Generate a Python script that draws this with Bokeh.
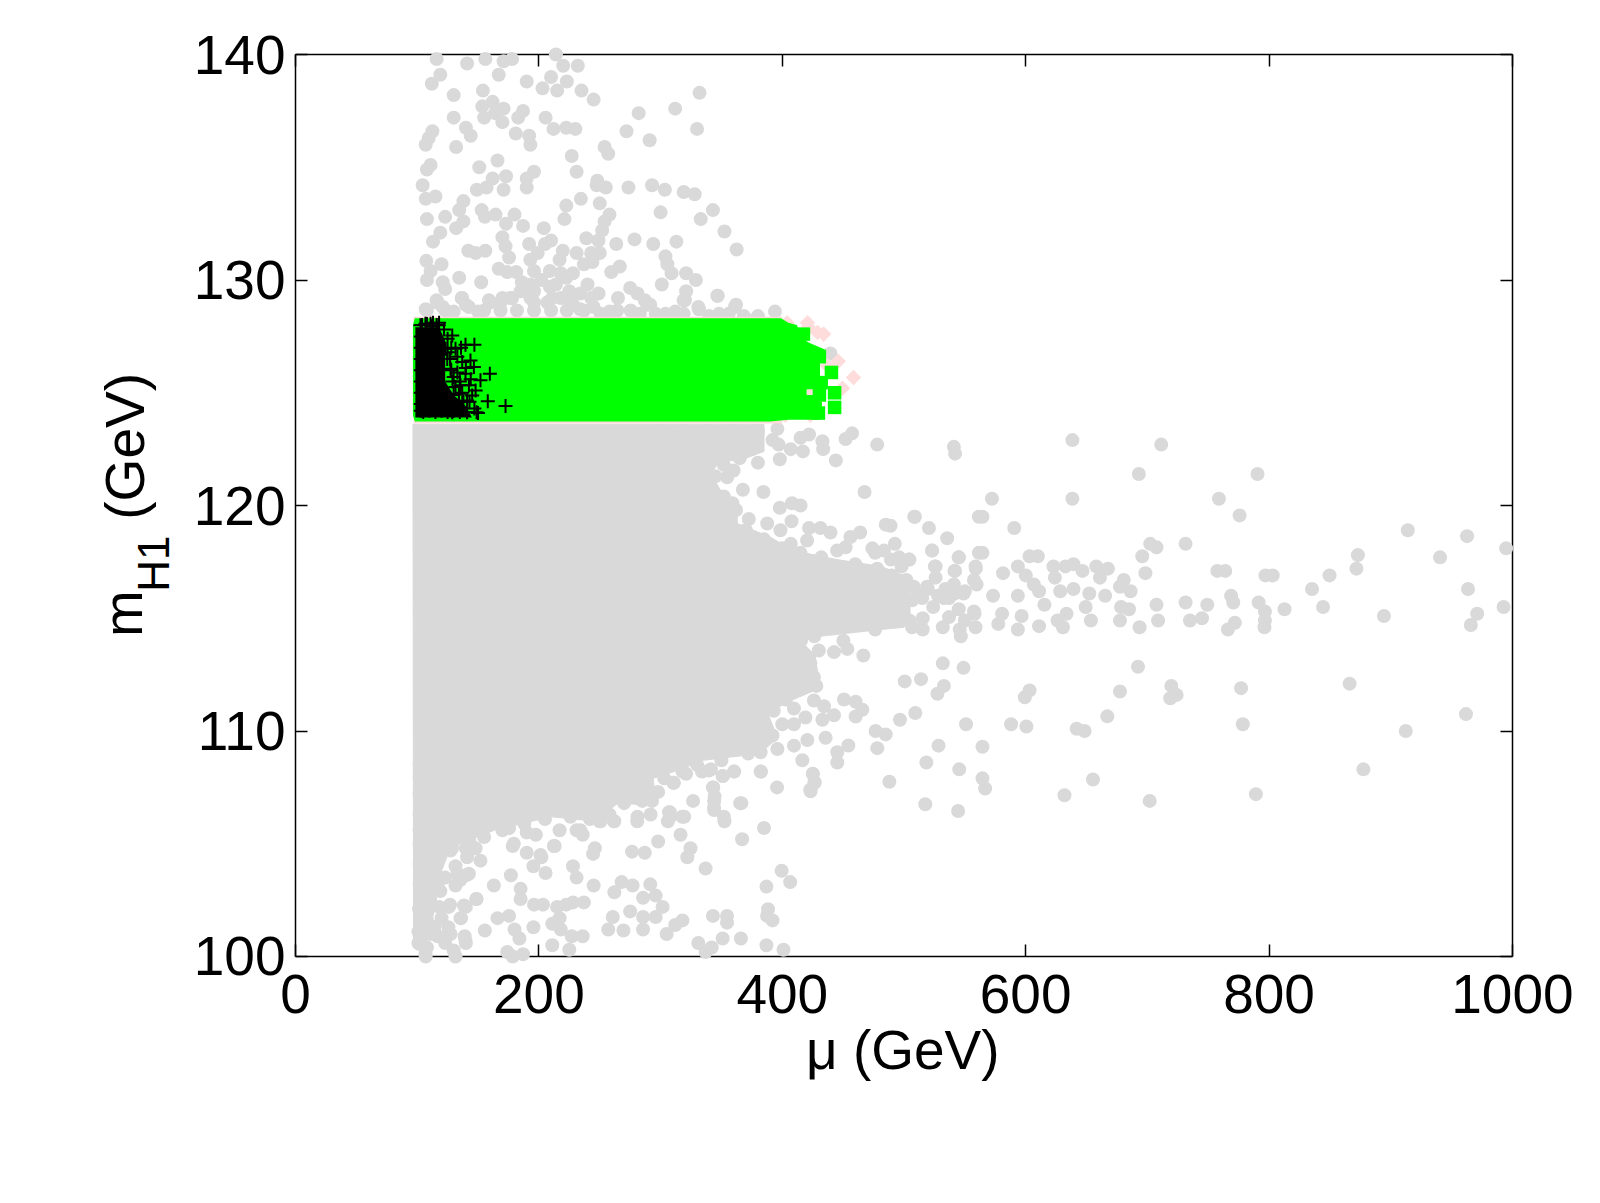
from math import pi
from bokeh.plotting import figure
from bokeh.models import LinearAxis, FixedTicker, Label
from bokeh.embed import file_html
from bokeh.resources import INLINE

x_ticks = [0, 200, 400, 600, 800, 1000]
y_ticks = [100, 110, 120, 130, 140]
x_title = "μ (GeV)"
y_title_m = "m"
y_title_sub = "H1"
y_title_unit = "(GeV)"

grey_top = [(116,139.8),(141,139.6),(156,139.8),(171,139.7),(178,139.8),(214,140.0),(220,139.5),(232,139.5),
(119,139.1),(112,138.7),(167,139.1),(190,138.8),(210,139.0),(223,138.8),(203,138.5),(215,138.4),(235,138.4),(245,138.0),
(332,138.3),(130,138.2),(154,138.4),(312,137.6),(282,137.4),(330,136.7),(272,136.6),(291,136.2),(153.5,137.7),(162,137.9),
(171,137.6),(155,137.2),(164,137.4),(170,137.0),(187,137.5),(183,137.2),(130,137.2),(205.5,137.2),(140,136.75),(144,136.4),
(112.5,136.6),(109.5,136.3),(107,136.0),(212,136.7),(222.5,136.75),(230,136.7),(181,136.5),(192,136.4),(193,136.0),(132,135.9),
(254,135.9),(257,135.6),(227,135.5),(111,135.1),(108,134.9),(166,135.3),(151,135.0),(231,134.8),(196,134.8),(190,134.5),
(190,134.1),(173,134.6),(162,134.5),(157,134.1),(149,134.0),(171,134.0),(248,134.4),(255,134.1),(247.5,134.2),(273.6,134.1),
(293,134.2),(303.5,134.0),(319,133.9),(328,133.8),(104.5,134.2),(107,133.6),(115,133.7),(234.5,133.6),(250,133.4),(222.5,133.3),
(221,132.7),(138,133.5),(134.5,133.1),(153,133.1),(155.6,132.8),(164.4,132.9),(180,132.9),(173,132.5),(187,132.4),(204,132.3),
(258,132.9),(254,132.6),(252,132.2),(300,133.0),(343,133.1),(333,132.7),(352.5,132.15),(362.5,131.35),(108,132.7),(123,132.8),
(138,132.6),(132,132.3),(119,132.1),(113,131.7),(170,131.9),(172.6,131.5),(175.5,131.0),(192,131.6),(210,131.75),(205,131.6),
(239,131.85),(249,131.75),(263.6,131.6),(278.6,131.8),(294,131.6),(313,131.7),(142,131.3),(148,131.2),(156,131.3),(107.5,130.85),
(120,130.7),(111,130.4),(108,130.0),(134.5,130.1),(121,129.9),(123,129.6),(152.6,129.9),(199,131.2),(219.6,131.3),(231,131.2),
(243,131.2),(250,131.2),(193,130.9),(217,130.9),(237,130.7),(244,130.8),(266.5,130.6),(259.5,130.35),(304,131.05),(305.6,130.7),
(309,130.3),(321,130.3),(329,130.0),(301,129.8),(167,130.5),(174,130.35),(181.4,130.35),(196,130.4),(209,130.4),(222.5,130.1),
(228,130.3),(240,129.8),(193,129.8),(209,129.7),(187,129.6),(225,129.5),(249,129.4),(275,129.65),(281,129.4),(287,129.1),
(291.5,128.9),(265,129.2),(321,129.5),(320,129.1),(331,128.8),(347,129.3),(361,128.8),(116,129.1),(107,128.7),(121,128.8),
(136.5,129.2),(140,128.9),(159,129.1),(170,129.2),(178,129.2),(193,129.2),(211,129.2),(228,128.9),(108,128.65),(116.4,129),
(123.3,128.65),(137,129.2),(142.5,128.8),(160,129),(168.5,129),(176.7,129.2),(185,129.5),(196,129.5),(226,129),(234,128.7),
(250.7,128.5),(264.4,128.65),(275.4,128.65),(289,128.9),(304,128.5),(319,129.1),(319,128.5),(331.5,128.7),(340,128.4),(356,128.5),
(362,128.9),(368.5,128.4),(380,128.4),(394,128.6),(346.6,129.3),(196,129),(207,129),(218,129.2),(168.5,128.65),(155,128.65),
(182,128.65),(196,128.65),(210,128.65),(223,128.65),(237,128.65),(439.6,126.74),
(150,128.6),(130,128.6),(245,128.8),(258,128.6),(283,128.5),(296,128.5),(312,128.6),(348,128.5),(186,129.9),(202,130),(214,129.8),(218,130.3),(234,129.4),(243,129.2)]

grey_bottom = [(107,100),(131.5,100),(174,100.2),(178.5,100),(187,100.1),(211,100.5),(225,100.3),(236,100.9),(227,100.9),(218,101.2),
(211,101.45),(217,101.7),(215,102.2),(222.5,102.3),(228,102.4),(237,102.4),(196,102.3),(203.4,102.3),(195.5,101.3),(184,100.8),
(180,101.2),(175.5,101.8),(166,101.7),(155.6,101.15),(140,100.6),(139,100.9),(140,102.2),(148.5,102.55),(127,102.3),(136,101.7),
(120,101.7),(125.6,101.3),(117,100.9),(123,100.6),(108,100.4),(101,100.6),(101,101.1),(111,101),(101.6,102.1),(108,101.6),(114,101.3),
(185,103),(185,102.55),(163,103.15),(177,103.6),(195.5,104),(205.5,103.7),(228,104),(231,103.5),(245,103.15),(246,104.8),(244.5,104.55),
(276.5,104.65),(287,104.6),(298,105.1),(316.4,105.4),(324.6,104.8),(322,104.4),(337,103.9),(268,103.3),(277,103.15),(262,102.85),
(291.5,103.2),(296,102.7),(285.6,102.6),(301.7,102.2),(296,101.75),(285.6,101.75),(285.6,101.2),(275,102),(260.7,101.75),(257,101.2),
(269.5,101.15),(318,101.6),(312,101.4),(305,101),(331,100.6),(337,100.2),(342,100.4),(351,100.8),(366,100.8),(387,100.5),(401,100.3),
(343,101.8),(354.6,101.8),(354.6,101.5),(388.3,102.1),(387.5,101.8),(392,101.6),(387,103.1),(399.5,103.8),(406.5,103.3),
(310.5,107.7),(321,108.1),(334,108.2),(341.4,108.3),(351,108),(360.5,108.2),(382.5,108.2),(395.7,107.5),(425,108.1),(426.5,107.7),(423,107.4),
(343,107.5),(344,106.9),(344,106.5),(352.5,106),(366.3,106.8),(326.7,106.9),(307.6,106.4),(306,106),(319.4,106.2),(367,105.2),(385,105.7),
(281,106.2),(262,106),(250,106),(293,106.9),(231,105.6),(217,105.6),(190,105.5),(175.5,105.7),(197.5,105.4),(178.5,104.9),(190,104.6),
(202,104.4),(213,104.9),(236,105.4),(107,104.7),(114,104.8),(128.6,104.8),(140,104.8),(152,104.25),(131.5,104),(140,103.6),(123,103.5),
(105,104),(102,103.2),(111,103.1),(131.5,103.15),(108,102.5),(118,102.2),
(102,108.55),(102,107.95),(102,107.2),(102,106.3),(102,105.6),(102,105),(102,104.1),(102,102.2),(102,101.15),(102,100.55),
(148,104.8),(142.5,103.67),(135.6,103.4),(126,102.2),(138.4,102.26),(148.8,102.55),(135.6,101.7),(139.7,100.7),(130,100.27),(106.8,100.1),
(127.4,101),(113.7,101.3),(105.5,102.5),(119,102.9),(133,103.67),(119,103.4),(105.5,103.67),(108.2,104.55),(127.4,104.7),(141,104.4),
(175,105.7),(179.4,105),(201.4,104.5),(212.3,104.9),(234,105.6),(250.7,106),(261.7,106),(280.8,106),(291.8,106.3),(308,106.2)]

grey_edge = [(396,123.4),(415,123),(422,123.15),(433,122.85),(433.6,122.5),(417,122.4),(407,122.5),(397,122.7),(398,122.05),(380,121.9),
(444,122),(452,122.95),(457.4,123.2),(478,122.7),(360,121.55),(354.7,121.25),(367.6,120.7),(384.5,120.6),(467.6,120.6),(359,120.1),
(398,119.9),(408,120.1),(415,120),(407.6,119.3),(372.5,119.4),(387.6,119.2),(398.5,118.9),(422,119),(431.4,119),(439.6,118.8),(456,118.6),
(464,118.8),(485,119.15),(489,119.1),(509,119.5),(520.5,119),(535.5,118.55),(561.5,119.5),(407,118.3),(420.4,118.45),(445,118),(452,118.15),
(474,118.1),(483.5,118),(492.5,118.3),(504,117.6),(496,117.7),(523,118),(545,117.7),(561.5,117.9),(526,117.3),(526,116.8),(542,117.1),
(541,116.5),(559,117.2),(557.5,116.7),(537,115.9),(549,116.1),(557.5,115.3),(508,116.4),(513.6,116),(466.6,113.35),(442.5,113.5),(430,113.57),
(453.4,113.64),(450.7,111.4),(460.3,111.3),(465.8,110.94),(460.3,110.64),(476.7,110),(485,109.85),(435.6,109.7),(454.3,109.36),(445.2,109.06),
(445.2,108.6),(478.1,109.24),(416.5,108.7),(425.2,108.1),(426.6,107.73),(423.3,107.33),(382.2,108.2),(360.3,108.2),(351.2,108),(339.7,108.25),
(343.3,107.5),(344.4,107.1),(343.9,106.6),(311,107.7),(306.9,106.4),(317.8,106.2),(352,106.2),(409.6,110.3),(419,110.6),(433,110.5),(442.5,110.7),
(420.6,109.6),(409.6,109.35),(396,109.2),(382.2,109.06),(361.6,109.2),(426,111.35),(434.3,111.1),(401.4,111.94),(409.6,111),(426,112.4),(423,113),
(415.4,114),(426.3,114.2),(450.2,114),(476.3,114.5),(472,114.9),(506.7,114.6),(515.4,114.5),(531.9,114.6),(545.8,114.5),(546.7,114.2),(558.8,114.6),
(558,115.2),(523.2,118),(525.4,117.3),(541.5,117.1),(545,117.7),(564.5,117.9),(558.8,117.3),(559.7,116.5),
(300,123.3),(320,123.3),(340,123.3),(360,123.3),(380,123.3),(392,122.9),(375,122.5),(365,122.1),(352,121.8),(345,121.3),(352,120.4),(362,119.8),(370,118.9),(385,118.5),(400,118.1),(415,117.9),(432,117.7),(460,117.4),(478,117.2),(490,116.9),(502,116.7),(519,116.4),(534,116.3),
(420,113),(410,112.6),(428,112),(403,111.4),(393,110.9),(400,110.3),(392,109.8),(372,109),(350,108.7),(330,108.5),(318,108.2),(303,107.9),(298,107.3),(285,106.9),(270,106.8),(258,106.3),(242,106.1),(226,106.2),(205,106.1),(188,105.9),(170,105.6),(155,105.3),(143,105.1),
(519.7,116.3),(532.8,115.9),(541.5,116.1),(550,116.2),(506.7,116.4),(506.7,115.8),(524,115.5),(537,115.05),(550,114.9),(515.4,115),(504.5,114.9),(489.3,114.9),(498,116.1),(498,117.3),(504.5,117.6),(489.3,117.6),(476.3,117.9),(515,115.9),(528,116),(545,115.4)]

grey_right = [(638.4,122.9),(711.4,122.7),(541,122.6),(542,122.3),(693,121.4),(790.5,121.4),(572.3,120.3),(638.4,120.3),(758.8,120.3),(775.8,119.56),
(564.5,119.5),(508.4,119.5),(590.6,119),(914,118.9),(962.7,118.64),(994.8,118.1),(873,117.8),(871.8,117.2),(940.5,117.7),(731.4,118.3),(702.3,118.3),
(707.5,118.15),(695.8,117.75),(698.4,117),(849.7,116.9),(835.3,116.3),(963.5,116.3),(844.4,115.5),(894.4,115.1),(992.7,115.5),(971,115.2),(965.8,114.7),
(812.7,115.4),(796.6,115.3),(791.4,115.7),(796.2,114.6),(796.6,114.9),(768.8,116),(770.6,115.7),(771.9,114.8),(766.2,114.5),(749.2,115.6),(744.9,115),
(735,114.9),(731.4,115.7),(708.8,114.9),(707.5,115.6),(693.6,114.6),(677.5,114.9),(678.4,115.5),(684.9,115.4),(686.2,116.2),(677.5,116.4),(680.6,116.7),
(757.5,117.1),(764,117.1),(797,116.9),(803,116.9),(653.6,114.9),(630.6,114.6),(626.2,114.9),(633.6,115.2),(611,114.65),(593.6,114.5),(577.5,114.75),
(580.6,115.2),(596.7,115.1),(615.4,115.6),(649.3,115.5),(652.3,116.1),(665.3,116),(639.3,116.3),(628.4,116.2),(661,116.8),(646.7,117.1),(658,117.3),
(667.6,117.2),(639.3,117.4),(632.7,117.3),(622.8,117.3),(624,116.8),(610,117.75),(603.2,117.75),(593.6,117.3),(581.4,117),(600.1,116.9),(606.7,116.5),
(593.6,116),(611,116.2),(573.2,116),(531.9,113),(548.9,112.8),(692.3,112.85),(500.6,112.2),(514,112.3),(532.8,112),(527.5,111.65),(603.2,111.8),(599.3,111.5),
(677.5,111.75),(719.7,112),(718.8,111.45),(724,111.6),(777,111.9),(866.2,112.1),(509.3,110.8),(496.7,110.5),(551,110.3),(588,110.3),(600.6,110.2),
(641.9,110.1),(648.4,110),(667.1,110.65),(778.4,110.3),(912.3,110),(961.8,110.75),(528.4,109.35),(564.5,109.3),(518.4,108.6),(545.4,108.3),(488,107.75),
(564.5,107.9),(566.7,107.45),(655.3,107.85),(631.9,107.15),(701.9,106.9),(789.2,107.2),(877.5,108.3),(517.5,106.75),(544.5,106.45),(365.4,106.8)]

# outline of the solid part of the grey cloud (mu, mH1)
core_mu = [96.5,385,385,365,349,341,363,363,390,409,445,481,500,505,505,500,481,431,415,427,431,407,388,396,382,335,314,294,296,265,246,210,163.5,135,125,118,115,110,108,97]
core_mh = [123.6,123.6,122.4,122,122,121.4,119.5,119.2,118.6,118,117.6,117.3,116.9,116,115.2,114.6,114.5,114.2,114,113.35,111.9,111.35,110.8,109.7,109,108.7,108.25,107.9,106.7,106.8,106,106.2,105.6,105,104.5,103.5,102.2,101.2,100.6,100.6]

pink_band_mu = [97,400,400,97]
pink_band_mh = [128.37,128.37,123.64,123.64]
pink_mu = [458.5,449.5,446,434,421.5,429,423,404,420.7,402.6,423,421.5,426,428,437]
pink_mh = [125.68,125.2,126.4,127.6,127.9,127.67,124.8,128.1,128.1,124,124,125.3,125.1,124.9,126.2]

green_band_mu = [98,399,405,412,416,423,436,436,431,431,420,420,431,431,405,390,98,96.5,96.5]
green_band_mh = [128.3,128.3,128.1,128,127.4,127.2,126.9,126.3,126.3,125.15,125.15,124.7,124.7,123.8,123.8,123.72,123.72,124,128]
green_mu = [443,443,430.5,429.7,440.4,425.6,417.4,396,432,427,420]
green_mh = [124.35,125,124.9,124.1,125.9,126.56,127.6,127.9,125.45,124.3,124.6]

black_core_mu = [98.5,118,123,123,130,140,145,98.5]
black_core_mh = [127.9,127.9,127.3,125.5,124.9,124.4,123.9,123.9]
black_mu = [172.6,158,148.8,152,159.7,143.8,146.6,147,139.7,128.8,131.5,117.8,106.8,137,139.7,142.5,135.6,145.2,141,134.3,128.8,141,102.7,111,
103,103,103,103,103,103,103,103,105,110,115,120,125,130,135,104,108,112,116,123.3,124.7,127.4,130,131.5,134.3,
125,127,128,129,133,135,137,130,138,143,147,150,133,136,140,144,148,128,122,113,118,125]
black_mh = [124.41,124.62,124.14,125.55,125.84,126.43,126.14,127.13,127.13,127.54,126.95,127.99,128.06,126.36,125.84,125.33,125.33,124.88,124.66,124.59,124.14,124.14,127.99,128.06,
127.5,127,126.5,126,125.5,125,124.5,124.2,124.15,124.2,124.15,124.2,124.15,124.2,124.15,128,128.05,127.95,128,126.95,126.5,126.07,125.7,125.25,124.96,
127.4,126.5,126,125.5,125.9,125.5,125,124.9,124.6,124.6,124.3,124.1,126.6,127,126.1,125.6,125.1,127,127.8,128.1,128.1,126.8]

GREY = "#d9d9d9"
GREEN = "#00ff00"
PINK = "#ffdcdc"
FONT = "Liberation Sans"
SZ = "55px"

p = figure(width=1584, height=1187, frame_width=1584, frame_height=1187,
           x_range=(-242.4, 1059.2), y_range=(89.756, 142.395),
           min_border=0, output_backend="svg", toolbar_location=None, x_axis_type=None, y_axis_type=None)
p.outline_line_color = None
p.grid.visible = False
p.background_fill_color = "white"

def frame_axis(side, loc, bounds, ticks, standoff=None):
    ax = LinearAxis(ticker=FixedTicker(ticks=ticks), fixed_location=loc, bounds=bounds,
                    major_tick_in=12, major_tick_out=0, minor_tick_line_color=None,
                    axis_line_width=1.5, major_tick_line_width=1.5,
                    axis_line_color="black", major_tick_line_color="black", level="underlay")
    if standoff is None:
        ax.major_label_text_font_size = "0px"
        ax.major_label_text_color = None
    else:
        ax.major_label_text_font = FONT
        ax.major_label_text_font_size = SZ
        ax.major_label_text_color = "black"
        ax.major_label_standoff = standoff
    p.add_layout(ax, side)

frame_axis("below", 100, (0, 1000), x_ticks, 19)
frame_axis("left", 0, (100, 140), y_ticks, 10)
frame_axis("above", 140, (0, 1000), x_ticks)
frame_axis("right", 1000, (100, 140), y_ticks)

grey_all = grey_top + grey_bottom + grey_edge + grey_right
p.patch(core_mu, core_mh, fill_color=GREY, line_color=GREY)
p.scatter([a for a, b in grey_all], [b for a, b in grey_all], marker="circle", size=14,
          fill_color=GREY, line_color=None)
p.patch(pink_band_mu, pink_band_mh, fill_color=PINK, line_color=None)
p.scatter(pink_mu, pink_mh, marker="square", angle=pi / 4, size=11, fill_color=PINK, line_color=None)
p.patch(green_band_mu, green_band_mh, fill_color=GREEN, line_color=None)
p.scatter(green_mu, green_mh, marker="square", size=13.5, fill_color=GREEN, line_color=None)
p.patch(black_core_mu, black_core_mh, fill_color="black", line_color=None)
p.scatter(black_mu, black_mh, marker="cross", size=14, fill_color=None, line_color="black", line_width=2)

def add_text(t, x, y, size=SZ, angle=0.0, align="left"):
    p.add_layout(Label(x=x, y=y, text=t, text_font=FONT, text_font_size=size, text_color="black",
                       angle=angle, text_align=align, text_baseline="alphabetic"))

add_text(x_title, 499, 95.85, align="center")
add_text(y_title_m, -142, 114.17, size="56px", angle=pi / 2)
add_text(y_title_sub, -117, 116.17, size="44px", angle=pi / 2)
add_text(y_title_unit, -140, 119.37, angle=pi / 2)

open("out.html", "w").write(file_html(p, INLINE))
